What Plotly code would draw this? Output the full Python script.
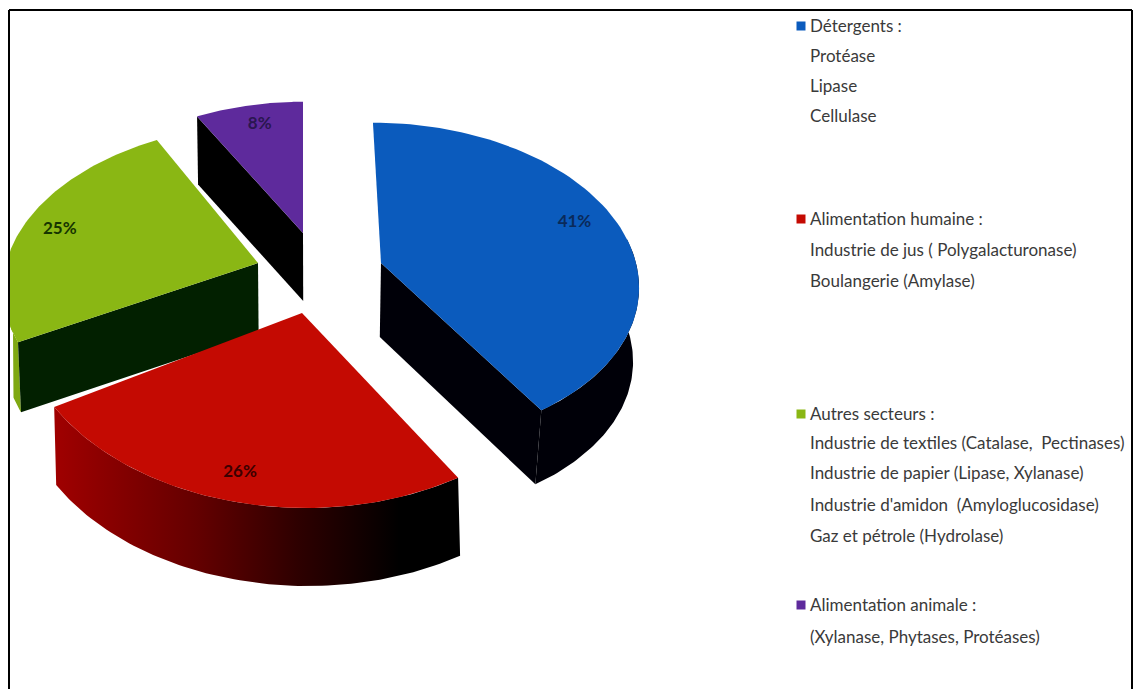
import numpy as np
import plotly.graph_objects as go

# ---- data ----
categories = ["Détergents", "Alimentation humaine", "Autres secteurs", "Alimentation animale"]
values = [41, 26, 25, 8]
top_colors = ["#0b5bbd", "#c40a02", "#8ab714", "#5e2a9c"]
label_colors = ["#0a2a5a", "#3c0000", "#163500", "#2a1650"]

legend_headers = ["Détergents :", "Alimentation humaine :", "Autres secteurs :", "Alimentation animale :"]
legend_details = [
    ["Protéase", "Lipase", "Cellulase"],
    ["Industrie de jus ( Polygalacturonase)", "Boulangerie (Amylase)"],
    ["Industrie de textiles (Catalase,  Pectinases)", "Industrie de papier (Lipase, Xylanase)",
     "Industrie d'amidon  (Amyloglucosidase)", "Gaz et pétrole (Hydrolase)"],
    ["(Xylanase, Phytases, Protéases)"],
]

# ---- layout of the projected wedges (page pixels on the axes) ----
W, H = 1137, 689
geom = [
    dict(cx=381, cy=263, a=255, b=157, k=0.119, skew=9, d=74, dx=-6),
    dict(cx=302, cy=313, a=285, b=195, k=0.0, skew=4, d=78, dx=2),
    dict(cx=258, cy=263, a=252, b=155, k=0.12, skew=-11, d=70, dx=3),
    dict(cx=303, cy=233, a=243, b=147, k=0.12, skew=0, d=68, dx=1),
]
label_radius = [0.82, 0.85, 0.84, 0.82]
label_shift = [(0, -5), (-5, -1), (-3, 2), (2, -2)]
legend_header_y = [28, 221, 416, 607]
legend_detail_y = [[58, 88, 118], [252, 283], [445, 475, 507, 538], [639]]
LEFT_CLIP = 10

edges = np.cumsum([0] + values) / sum(values) * 2 * np.pi


def project(g, theta, r=1.0):
    X, Y = r * np.sin(theta), -r * np.cos(theta)
    s = 1 / (1 - g["k"] * Y)
    x = g["cx"] + g["a"] * X * s + g["skew"] * Y * s
    y = g["cy"] + g["b"] * Y * s
    return np.maximum(x, LEFT_CLIP), y


def rim(g, t0, t1):
    return project(g, np.linspace(t0, t1, 80))


def poly(x, y, **kw):
    return go.Scatter(x=list(x), y=list(y), mode="lines", fill="toself",
                      line=dict(width=0), hoverinfo="skip", showlegend=False, **kw)


def strip(g, t0, t1, **kw):
    x, y = rim(g, t0, t1)
    return poly(np.r_[x, x[::-1] + g["dx"]], np.r_[y, y[::-1] + g["d"]], **kw)


def radial(g, t, **kw):
    x, y = project(g, t)
    cx, cy = g["cx"], g["cy"]
    d, dx = g["d"], g["dx"]
    return poly([cx, x, x + dx, cx + dx * 0.2], [cy, y, y + d, cy + d], **kw)


def top(g, t0, t1, color):
    x, y = rim(g, t0, t1)
    return poly(np.r_[g["cx"], x, g["cx"]], np.r_[g["cy"], y, g["cy"]], fillcolor=color)


fig = go.Figure()

# purple (back)
g = geom[3]
fig.add_trace(radial(g, edges[3], fillcolor="#000000"))
fig.add_trace(top(g, edges[3], edges[4], top_colors[3]))

# green
g = geom[2]
fig.add_trace(strip(g, edges[2], 1.5 * np.pi, fillcolor="#7fa812"))
fig.add_trace(radial(g, edges[2], fillcolor="#022000"))
fig.add_trace(top(g, edges[2], edges[3], top_colors[2]))

# red
g = geom[1]
fig.add_trace(strip(g, edges[1], edges[2], fillgradient=dict(
    type="horizontal",
    colorscale=[[0, "#a00000"], [0.35, "#640000"], [0.6, "#2e0000"], [0.85, "#000000"], [1, "#000000"]])))
fig.add_trace(top(g, edges[1], edges[2], top_colors[1]))

# blue
g = geom[0]
fig.add_trace(strip(g, 0.45 * np.pi, edges[1], fillcolor="#000008"))
fig.add_trace(radial(g, edges[1], fillcolor="#000008"))
fig.add_trace(top(g, edges[0], edges[1], top_colors[0]))

# percentage labels
for i, g in enumerate(geom):
    lx, ly = project(g, (edges[i] + edges[i + 1]) / 2, label_radius[i])
    fig.add_trace(go.Scatter(x=[lx + label_shift[i][0]], y=[ly + label_shift[i][1]], mode="text",
                             text=[f"{values[i]}%"],
                             textfont=dict(family="Lato", size=17, color=label_colors[i], weight="bold"),
                             hoverinfo="skip", showlegend=False))

# legend
for i, name in enumerate(categories):
    fig.add_trace(go.Scatter(x=[801], y=[legend_header_y[i] - 2], mode="markers", name=name,
                             marker=dict(symbol="square", size=9, color=top_colors[i]),
                             hoverinfo="name", showlegend=False))
    ys = [legend_header_y[i]] + legend_detail_y[i]
    ts = [legend_headers[i]] + legend_details[i]
    fig.add_trace(go.Scatter(x=[810] * len(ys), y=ys, mode="text", text=ts, textposition="middle right",
                             textfont=dict(family="Lato", size=17, color="#3a3a3a"),
                             hoverinfo="skip", showlegend=False))

frame = dict(color="#000000", width=2)
fig.update_layout(
    width=W, height=H, margin=dict(l=0, r=0, t=0, b=0),
    paper_bgcolor="white", plot_bgcolor="white", showlegend=False,
    xaxis=dict(range=[0, W], visible=False, fixedrange=True),
    yaxis=dict(range=[H, 0], visible=False, fixedrange=True),
    shapes=[
        dict(type="line", x0=9, x1=9, y0=10, y1=H, line=frame),
        dict(type="line", x0=9, x1=1132, y0=10, y1=10, line=frame),
        dict(type="line", x0=1132, x1=1132, y0=10, y1=H, line=frame),
    ],
)
fig.write_html("out.html", config={"displayModeBar": False},
               post_script="document.body.style.margin='0';")
